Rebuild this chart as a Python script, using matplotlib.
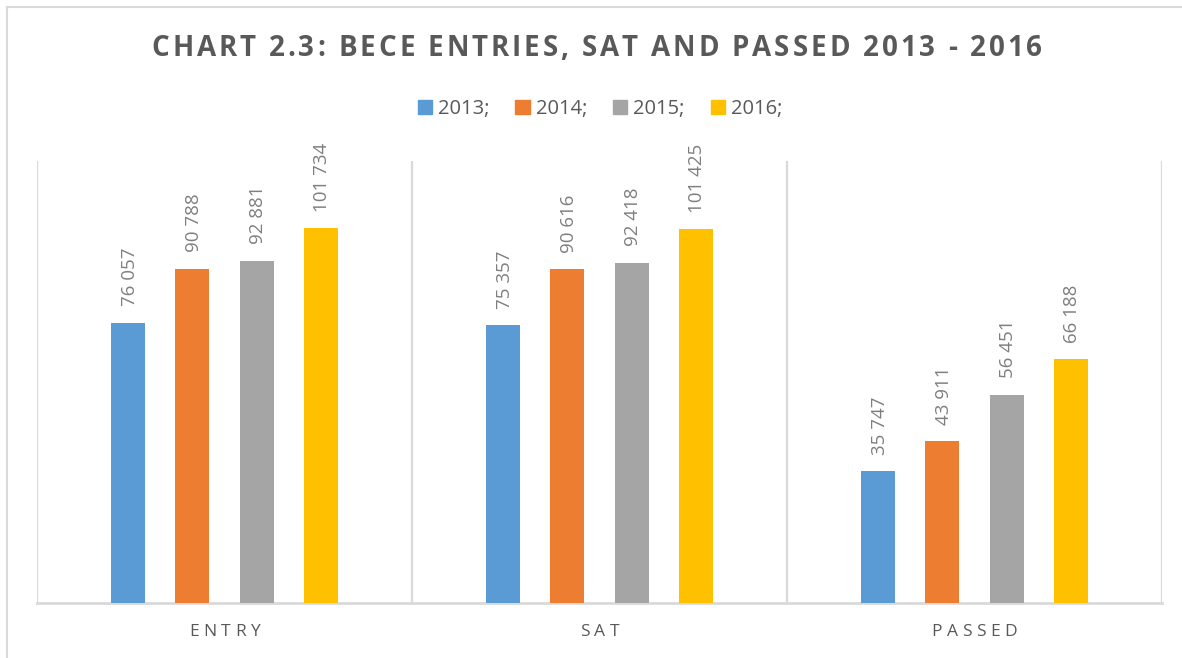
import matplotlib
matplotlib.use("Agg")
import matplotlib.pyplot as plt
import numpy as np
from matplotlib.font_manager import FontProperties
from matplotlib.lines import Line2D
from matplotlib.patches import Rectangle

categories = ["ENTRY", "SAT", "PASSED"]
series_names = ["2013;", "2014;", "2015;", "2016;"]
v2013 = [76057, 75357, 35747]
v2014 = [90788, 90616, 43911]
v2015 = [92881, 92418, 56451]
v2016 = [101734, 101425, 66188]
title = "CHART 2.3: BECE ENTRIES, SAT AND PASSED 2013 - 2016"

colors = ["#5B9BD5", "#ED7D31", "#A5A5A5", "#FFC000"]
series = [v2013, v2014, v2015, v2016]

W, H = 1182, 658
fig = plt.figure(figsize=(W / 100, H / 100), dpi=100)
ax = fig.add_axes([37 / W, 1 - 603 / H, 1125 / W, (603 - 161) / H])

x = np.arange(len(categories))
bw = 0.0907
step = 0.171
for i, (vals, c) in enumerate(zip(series, colors)):
    pos = x + (i - 1.5) * step
    bars = ax.bar(pos, vals, width=bw, color=c, zorder=3)
    for b, v in zip(bars, vals):
        ax.annotate(f"{v:,}".replace(",", " "),
                    (b.get_x() + b.get_width() / 2, b.get_height()),
                    xytext=(1, 12), textcoords="offset points",
                    rotation=90, ha="center", va="bottom",
                    fontsize=13.5, color="#7F7F7F", family="Open Sans")

ax.set_xlim(-0.5, 2.5)
ax.set_ylim(0, 120000)
for b in [-0.5, 0.5, 1.5, 2.5]:
    ax.axvline(b, color="#D9D9D9", lw=1.6, zorder=1)
for s in ["top", "left", "right"]:
    ax.spines[s].set_visible(False)
ax.spines["bottom"].set_color("#D9D9D9")
ax.spines["bottom"].set_linewidth(2)
ax.set_xticks([])
ax.set_yticks([])

renderer = fig.canvas.get_renderer()


def spaced_text(xc_px, yc_px, s, size, color, spacing_px, weight="normal", family="Open Sans"):
    fp = FontProperties(family=family, size=size, weight=weight)
    widths = []
    for ch in s:
        w, h, d = renderer.get_text_width_height_descent(ch, fp, ismath=False)
        widths.append(w)
    total = sum(widths) + spacing_px * (len(s) - 1)
    xp = xc_px - total / 2
    for ch, w in zip(s, widths):
        fig.text(xp / W, 1 - yc_px / H, ch, fontproperties=fp, color=color,
                 ha="left", va="center")
        xp += w + spacing_px


spaced_text(597, 48, title, 20, "#595959", 2.9, weight="bold")

centers_px = [37 + 1125 * (xi + 0.5) / 3 for xi in x]
for cpx, cat in zip(centers_px, categories):
    spaced_text(cpx, 632, cat, 12.5, "#595959", 4.5)

handles = [Rectangle((0, 0), 1, 1, color=c) for c in colors]
fig.legend(handles, series_names, loc="center", bbox_to_anchor=(600 / W, 1 - 109 / H),
           ncol=4, frameon=False, handlelength=0.7, handleheight=0.7,
           handletextpad=0.3, columnspacing=1.3,
           prop=FontProperties(family="Open Sans", size=14.5))
for t in fig.legends[0].get_texts():
    t.set_color("#595959")

fig.add_artist(Line2D([7 / W, 7 / W], [0, 1 - 7 / H], transform=fig.transFigure,
                      color="#D9D9D9", lw=1.5))
fig.add_artist(Line2D([7 / W, 1], [1 - 7 / H, 1 - 7 / H], transform=fig.transFigure,
                      color="#D9D9D9", lw=1.5))

fig.savefig("out.png", dpi=100)
